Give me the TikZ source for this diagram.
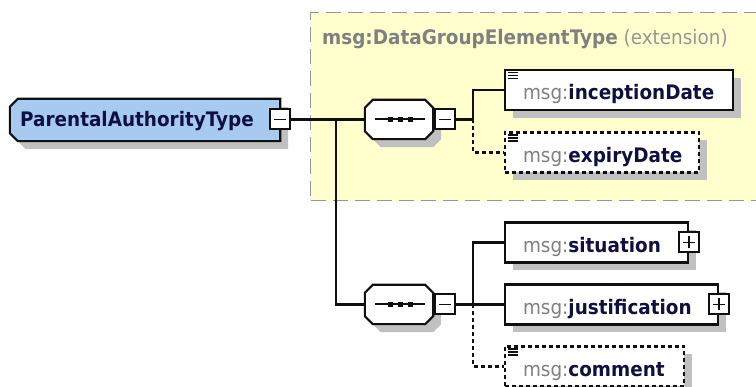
\documentclass[tikz,border=0pt]{standalone}
\usepackage{fontspec}
\setmainfont{DejaVu Sans}[FakeStretch=0.92]
\usetikzlibrary{shadows}
\definecolor{ybg}{RGB}{255,255,206}
\definecolor{yborder}{RGB}{150,150,150}
\definecolor{bluefill}{RGB}{166,202,240}
\definecolor{navy}{RGB}{16,16,64}
\definecolor{msggray}{RGB}{128,128,128}
\definecolor{extgray}{RGB}{150,150,150}
\definecolor{shadowc}{RGB}{192,192,192}
\definecolor{bord}{RGB}{15,15,15}
\newcommand\elname[1]{\mbox{\textcolor{msggray}{msg:}\textbf{#1}}}
\begin{document}
\begin{tikzpicture}[x=1pt,y=-1pt,
  every node/.style={font=\fontsize{20}{24}\selectfont},
  shad/.style={drop shadow={shadow xshift=8pt,shadow yshift=-8pt,fill=shadowc,opacity=1,draw=none}},
  conn/.style={draw=bord,line width=2.1pt},
  optconn/.style={conn,dash pattern=on 4pt off 3pt},
  elem/.style={rectangle,draw=bord,line width=2.1pt,fill=white,shad,anchor=west,
    minimum height=40pt,inner xsep=18pt,inner ysep=0pt,text height=22pt,text depth=2pt,
    align=left,text=navy},
  optelem/.style={elem,dash pattern=on 4pt off 3pt},
  signbox/.style={rectangle,draw=bord,line width=2pt,fill=white,minimum size=20pt,inner sep=0pt},
  minusbox/.style={signbox,path picture={\draw[line width=1.8pt,bord]
    ([xshift=-6pt]path picture bounding box.center) -- ([xshift=6pt]path picture bounding box.center);}},
  plusbox/.style={signbox,path picture={\draw[line width=1.8pt,bord]
    ([xshift=-6pt]path picture bounding box.center) -- ([xshift=6pt]path picture bounding box.center)
    ([yshift=-6pt]path picture bounding box.center) -- ([yshift=6pt]path picture bounding box.center);}},
  frame/.style={rectangle,draw=none,fill=none,inner sep=0pt},
  shapeline/.style={draw=bord,line width=2.1pt,shad},
  octo/.style={insert path={([xshift=8pt]#1.north west) -- ([xshift=-8pt]#1.north east)
    -- ([yshift=-8pt]#1.north east) -- ([yshift=8pt]#1.south east)
    -- ([xshift=-8pt]#1.south east) -- ([xshift=8pt]#1.south west)
    -- ([yshift=8pt]#1.south west) -- ([yshift=-8pt]#1.north west) -- cycle}},
  halfocto/.style={insert path={([xshift=8pt]#1.north west) -- (#1.north east)
    -- (#1.south east) -- ([xshift=8pt]#1.south west)
    -- ([yshift=8pt]#1.south west) -- ([yshift=-8pt]#1.north west) -- cycle}}
]
\useasboundingbox (0,0) rectangle (756,387);
\fill[white] (0,0) rectangle (756,387);
% extension area
\node[rectangle,draw=yborder,fill=ybg,line width=1.3pt,dash pattern=on 15pt off 7pt,
  anchor=north west,minimum width=460pt,minimum height=188pt,inner sep=0pt] (ext) at (310,12) {};
\node[anchor=base west,text=msggray,inner sep=0pt] (title) at (322,45)
  {\textbf{msg:DataGroupElementType} \textcolor{extgray}{(extension)}};
% main type
\node[frame,minimum width=270pt,minimum height=42pt] (main) at (145,120) {};
\path[shapeline,fill=bluefill,halfocto=main];
\node[anchor=base west,text=navy,inner sep=0pt] (mainlbl) at (20,127) {\textbf{ParentalAuthorityType}};
\node[minusbox] (m0) at (280,119.5) {};
% sequences
\foreach \s/\yy in {seq1/119.5,seq2/304.5}{
  \node[frame,minimum width=68pt,minimum height=39pt] (\s) at (399,\yy) {};
  \path[shapeline,fill=white,octo=\s];
  \draw[line width=2pt,bord] ([xshift=-24pt]\s.center) -- ([xshift=26pt]\s.center);
  \foreach \dx in {-11,-1,9}{
    \fill[bord] ([xshift=\dx pt,yshift=2.5pt]\s.center) rectangle ++(5,5);
  }
}
\node[minusbox] (m1) at (444.5,119.5) {};
\node[minusbox] (m2) at (444.5,304.5) {};
% elements
\node[elem,minimum width=228pt,text width=192pt] (inc) at (504,90) {\elname{inceptionDate}};
\node[optelem,minimum width=194pt,text width=158pt] (exp) at (504,152.5) {\elname{expiryDate}};
\node[elem,minimum width=183pt,text width=147pt] (sit) at (504,242.5) {\elname{situation}};
\node[plusbox] (p1) at (sit.east) {};
\node[elem,minimum width=213pt,text width=177pt] (jus) at (504,304.5) {\elname{justification}};
\node[plusbox] (p2) at (jus.east) {};
\node[optelem,minimum width=179pt,text width=143pt] (com) at (504,366.5) {\elname{comment}};
% documentation icons
\foreach \n in {inc,exp,com}{
  \foreach \dy in {3.5,6.5,9.5}{
    \draw[line width=1.4pt,bord] ([xshift=4pt,yshift=-\dy pt]\n.north west) -- ++(10,0);
  }
}
% connectors
\coordinate (br) at (336,119.5);
\coordinate (j1) at (473,119.5);
\coordinate (j2) at (473,304.5);
\draw[conn] (m0.east) -- (seq1.west);
\draw[conn] (br) |- (seq2.west);
\draw[conn] (m1.east) -- (j1);
\draw[conn] (j1) |- (inc.west);
\draw[optconn] (j1) |- (exp.west);
\draw[conn] (m2.east) -- (j2);
\draw[conn] (j2) |- (sit.west);
\draw[conn] (j2) -- (jus.west);
\draw[optconn] (j2) |- (com.west);
\end{tikzpicture}
\end{document}
